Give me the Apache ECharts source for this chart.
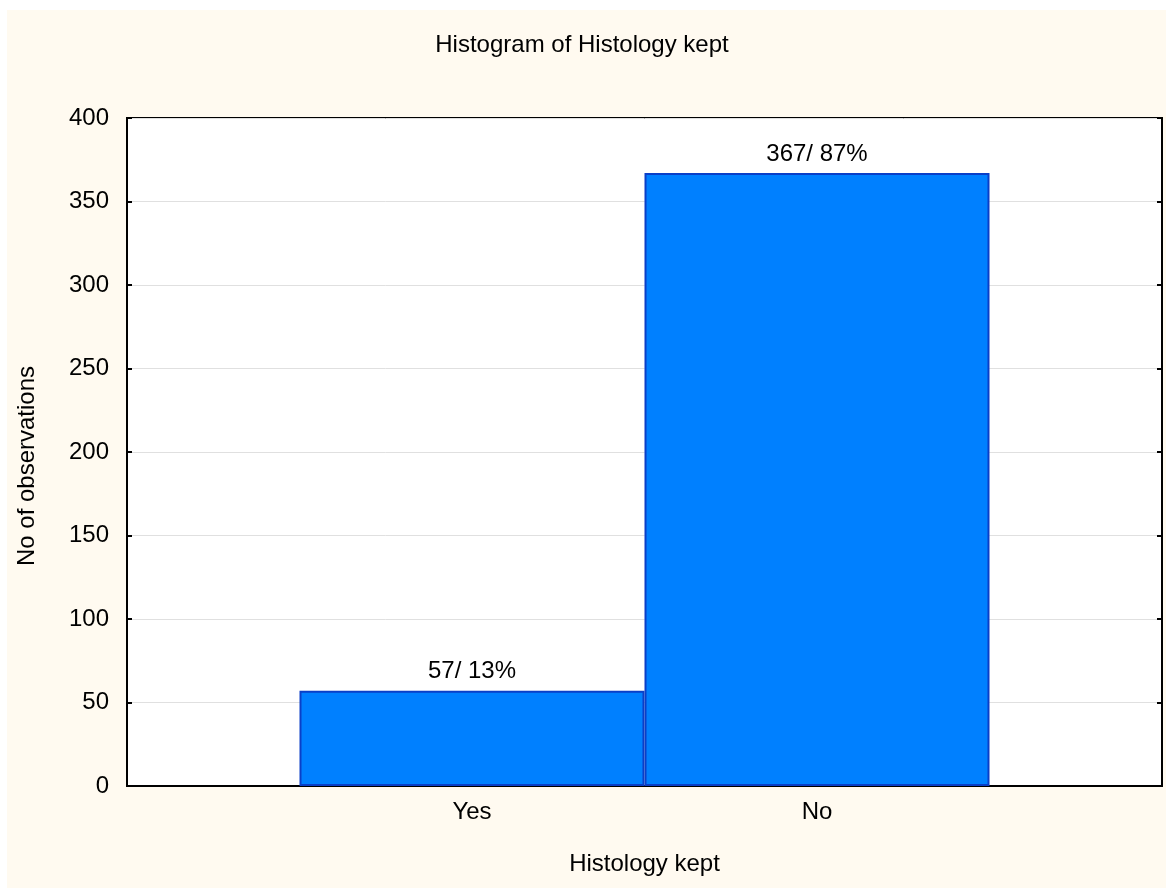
<!DOCTYPE html>
<html>
<head>
<meta charset="utf-8">
<title>Histogram of Histology kept</title>
<script src="https://cdn.jsdelivr.net/npm/echarts@6/dist/echarts.min.js"></script>
<style>
  html, body { margin: 0; padding: 0; background: #ffffff; }
  #chart {
    position: absolute;
    left: 7px;
    top: 10px;
    width: 1159px;
    height: 878px;
  }
</style>
</head>
<body>
<div id="chart"></div>
<script>
// data
const categories = ['Yes', 'No']
const positions = [1, 2]
const counts = [57, 367]
const percents = [13, 87]
const yTicks = [0, 50, 100, 150, 200, 250, 300, 350, 400]

const font = 'Liberation Sans, Arial, sans-serif'
const chart = echarts.init(document.getElementById('chart'))

const barData = positions.map((p, i) => ({
  value: [p, counts[i]],
  pct: percents[i]
}))

const option = {
  backgroundColor: '#fffaf0',
  animation: false,
  textStyle: { fontFamily: font },
  graphic: [
    {
      type: 'text',
      x: 575,
      y: 35,
      style: {
        text: 'Histogram of Histology kept',
        fontFamily: font,
        fontSize: 24,
        fill: '#000',
        textAlign: 'center',
        textVerticalAlign: 'middle'
      }
    }
  ],
  grid: {
    left: 117,
    right: 4,
    top: 108,
    bottom: 102,
    show: true,
    backgroundColor: '#ffffff',
    borderColor: '#000',
    borderWidth: 2
  },
  xAxis: {
    type: 'value',
    min: 0,
    max: 3,
    interval: 1,
    name: 'Histology kept',
    nameLocation: 'middle',
    nameGap: 66,
    nameTextStyle: { fontSize: 24, color: '#000', fontFamily: font },
    axisLine: { lineStyle: { color: '#000', width: 2 } },
    axisTick: { inside: true, length: 5, lineStyle: { color: '#000', width: 2 } },
    axisLabel: {
      fontSize: 24,
      color: '#000',
      margin: 14,
      formatter: (v) => {
        const i = positions.indexOf(v)
        return i >= 0 ? categories[i] : ''
      }
    },
    splitLine: { show: false }
  },
  yAxis: [
    {
      type: 'value',
      min: yTicks[0],
      max: yTicks[yTicks.length - 1],
      interval: 50,
      name: 'No of observations',
      nameLocation: 'middle',
      nameGap: 88,
      nameTextStyle: { fontSize: 24, color: '#000', fontFamily: font, padding: [0, 28, 0, 0] },
      axisLine: { show: true, lineStyle: { color: '#000', width: 2 } },
      axisTick: { show: true, inside: true, length: 5, lineStyle: { color: '#000', width: 2 } },
      axisLabel: { fontSize: 24, color: '#000', margin: 18 },
      splitLine: { show: true, lineStyle: { color: '#e0e0e0', width: 1 } }
    },
    {
      type: 'value',
      position: 'right',
      min: yTicks[0],
      max: yTicks[yTicks.length - 1],
      interval: 50,
      axisLine: { show: true, lineStyle: { color: '#000', width: 2 } },
      axisTick: { show: true, inside: true, length: 5, lineStyle: { color: '#000', width: 2 } },
      axisLabel: { show: false },
      splitLine: { show: false }
    }
  ],
  series: [
    {
      type: 'bar',
      data: barData,
      barWidth: 345,
      itemStyle: {
        color: '#0080ff',
        borderColor: '#0a3fc8',
        borderWidth: 2
      },
      label: {
        show: true,
        position: 'top',
        distance: 7,
        fontSize: 24,
        color: '#000',
        fontFamily: font,
        formatter: (p) => p.value[1] + '/ ' + p.data.pct + '%'
      }
    }
  ]
}

chart.setOption(option)
window.addEventListener('resize', () => chart.resize())
</script>
</body>
</html>
